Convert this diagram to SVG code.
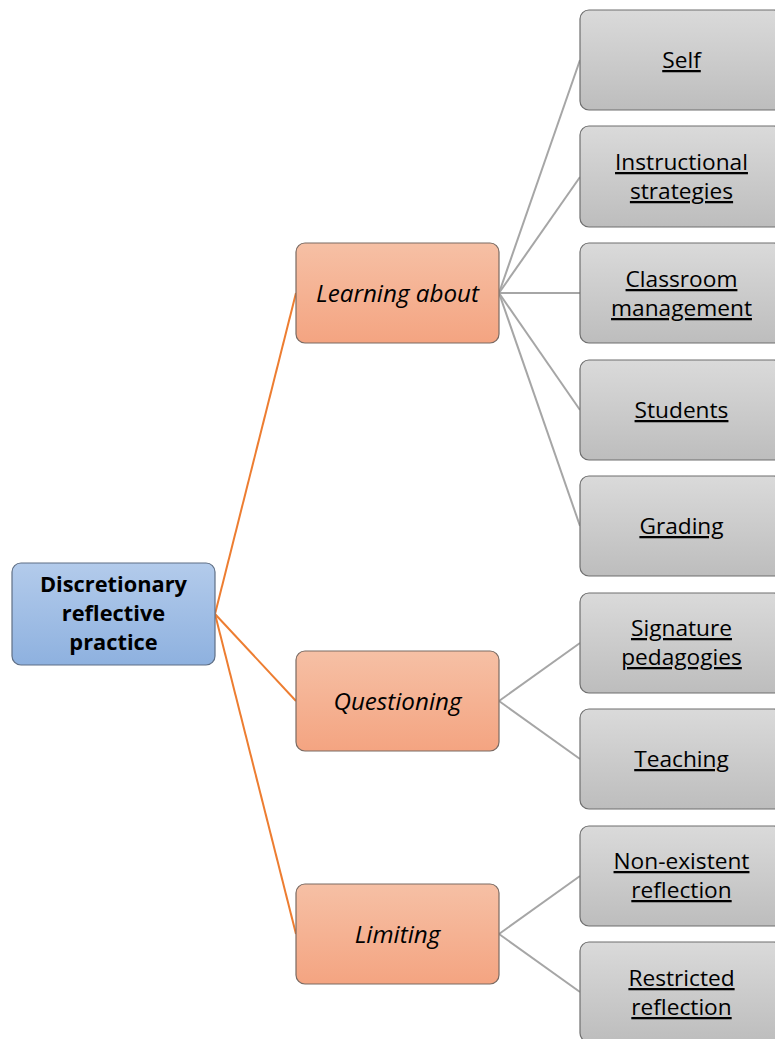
<svg xmlns="http://www.w3.org/2000/svg" width="775" height="1039" viewBox="0 0 775 1039">
<defs>
<linearGradient id="gBlue" x1="0" y1="0" x2="0" y2="1"><stop offset="0" stop-color="#b3cbeb"/><stop offset="1" stop-color="#8eb1df"/></linearGradient>
<linearGradient id="gOrange" x1="0" y1="0" x2="0" y2="1"><stop offset="0" stop-color="#f6c0a5"/><stop offset="1" stop-color="#f4a481"/></linearGradient>
<linearGradient id="gGray" x1="0" y1="0" x2="0" y2="1"><stop offset="0" stop-color="#dadada"/><stop offset="1" stop-color="#bdbdbd"/></linearGradient>
</defs>
<style>
.root rect{fill:url(#gBlue);stroke:#5f6f85;stroke-width:1.2}
.mid rect{fill:url(#gOrange);stroke:#7a6a62;stroke-width:1.2}
.leaf rect{fill:url(#gGray);stroke:#6f6f6f;stroke-width:1.2}
text{font-family:"Open Sans","Noto Sans",sans-serif;font-size:22.7px;fill:#000;text-anchor:middle}
.root text{font-weight:bold;font-size:21.8px}
.mid text{font-style:italic;font-size:24.2px}
.leaf text{text-decoration:underline}
.co{stroke:#ed7d31;stroke-width:2;fill:none}
.cg{stroke:#a6a6a6;stroke-width:2;fill:none}
</style>
<g id="connectors">
<line class="co" x1="215" y1="614" x2="296" y2="293"/>
<line class="co" x1="215" y1="614" x2="296" y2="701"/>
<line class="co" x1="215" y1="614" x2="296" y2="934"/>
<line class="cg" x1="499" y1="293" x2="580" y2="60"/>
<line class="cg" x1="499" y1="293" x2="580" y2="177"/>
<line class="cg" x1="499" y1="293" x2="580" y2="293"/>
<line class="cg" x1="499" y1="293" x2="580" y2="410"/>
<line class="cg" x1="499" y1="293" x2="580" y2="526"/>
<line class="cg" x1="499" y1="701" x2="580" y2="643"/>
<line class="cg" x1="499" y1="701" x2="580" y2="759"/>
<line class="cg" x1="499" y1="934" x2="580" y2="876"/>
<line class="cg" x1="499" y1="934" x2="580" y2="992"/>
</g>
<g id="n-root" class="root"><rect x="12" y="563" width="203" height="102" rx="9"/><text x="113.5" y="592">Discretionary</text><text x="113.5" y="621">reflective</text><text x="113.5" y="650">practice</text></g>
<g id="n-learning" class="mid"><rect x="296" y="243" width="203" height="100" rx="9"/><text x="397.5" y="302">Learning about</text></g>
<g id="n-questioning" class="mid"><rect x="296" y="651" width="203" height="100" rx="9"/><text x="397.5" y="710">Questioning</text></g>
<g id="n-limiting" class="mid"><rect x="296" y="884" width="203" height="100" rx="9"/><text x="397.5" y="943">Limiting</text></g>
<g id="n-self" class="leaf"><rect x="580" y="10" width="203" height="100" rx="9"/><text x="681.5" y="68">Self</text></g>
<g id="n-instr" class="leaf"><rect x="580" y="126" width="203" height="101" rx="9"/><text x="681.5" y="170">Instructional</text><text x="681.5" y="199">strategies</text></g>
<g id="n-class" class="leaf"><rect x="580" y="243" width="203" height="100" rx="9"/><text x="681.5" y="287">Classroom</text><text x="681.5" y="316">management</text></g>
<g id="n-students" class="leaf"><rect x="580" y="360" width="203" height="100" rx="9"/><text x="681.5" y="418">Students</text></g>
<g id="n-grading" class="leaf"><rect x="580" y="476" width="203" height="100" rx="9"/><text x="681.5" y="534">Grading</text></g>
<g id="n-signature" class="leaf"><rect x="580" y="593" width="203" height="100" rx="9"/><text x="681.5" y="636">Signature</text><text x="681.5" y="665">pedagogies</text></g>
<g id="n-teaching" class="leaf"><rect x="580" y="709" width="203" height="100" rx="9"/><text x="681.5" y="767">Teaching</text></g>
<g id="n-nonexist" class="leaf"><rect x="580" y="826" width="203" height="100" rx="9"/><text x="681.5" y="869">Non-existent</text><text x="681.5" y="898">reflection</text></g>
<g id="n-restricted" class="leaf"><rect x="580" y="942" width="203" height="100" rx="9"/><text x="681.5" y="986">Restricted</text><text x="681.5" y="1015">reflection</text></g>
</svg>
